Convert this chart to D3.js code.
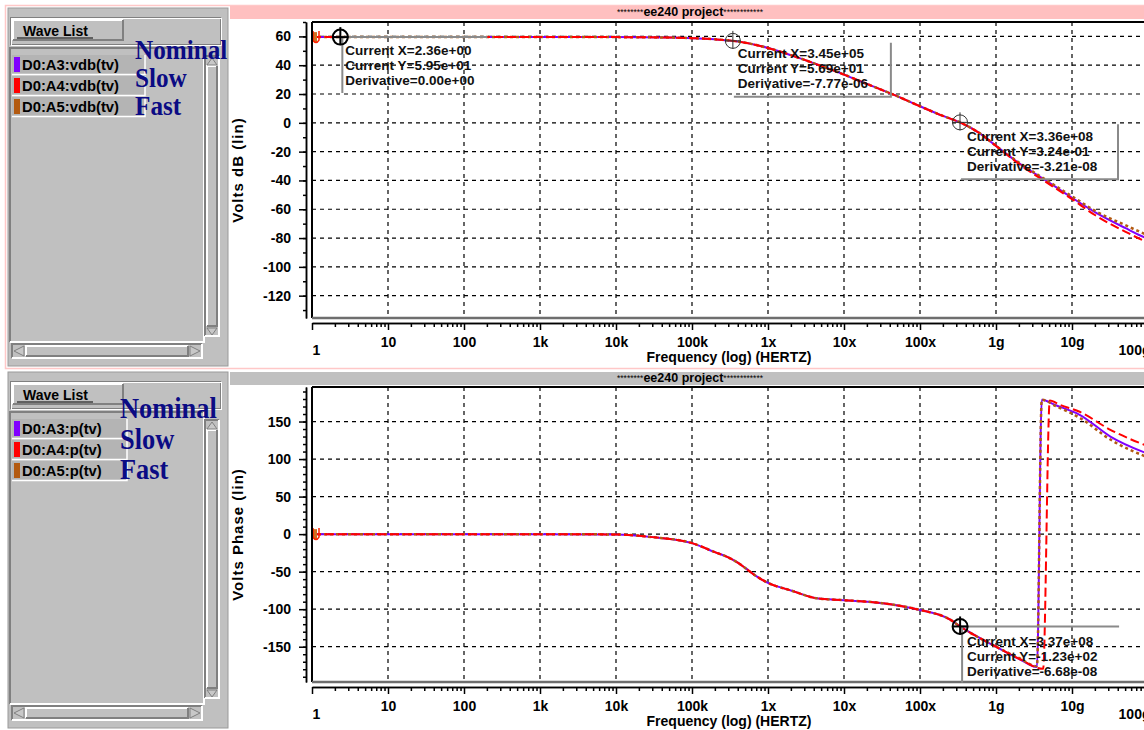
<!DOCTYPE html>
<html>
<head>
<meta charset="utf-8">
<script src="https://cdn.jsdelivr.net/npm/d3@7"></script>
<style>
  body { margin: 0; background: #fff; }
  svg text { font-family: "Liberation Sans", Arial, sans-serif; }
</style>
</head>
<body>
<svg id="chart" width="1144" height="730"></svg>
<script>
// ---- data ----
var decadeLabels = ["1", "10", "100", "1k", "10k", "100k", "1x", "10x", "100x", "1g", "10g", "100g"];
var magTicks = [60, 40, 20, 0, -20, -40, -60, -80, -100, -120];
var phaseTicks = [150, 100, 50, 0, -50, -100, -150];

var magFreq    = [1, 1e4, 5e4, 1e5, 2e5, 3.45e5, 6e5, 1e6, 2e6, 5e6, 1e7, 2e7, 5e7, 1e8, 2e8, 3.36e8, 6e8, 1e9, 2e9, 5e9, 1e10, 2e10, 5e10, 1e11, 1.2e11];
var magNominal = [59.5, 59.5, 59.2, 58.8, 58.0, 56.9, 54.8, 52.0, 47.0, 39.5, 33.5, 27.0, 18.5, 11.5, 4.8, 0.3, -7.0, -16, -28, -41.5, -52, -62, -73, -80.5, -82];
var magSlow    = [59.5, 59.5, 59.2, 58.8, 58.0, 56.9, 54.8, 52.0, 47.0, 39.5, 33.5, 27.0, 18.5, 11.5, 4.8, 0.3, -7.0, -16, -28.5, -42.5, -53, -64, -75.5, -83, -84.5];
var magFast    = [59.5, 59.5, 59.2, 58.8, 58.0, 56.9, 54.8, 52.0, 47.0, 39.5, 33.5, 27.0, 18.5, 11.5, 4.8, 0.3, -7.0, -16, -27.5, -41, -51, -61, -71, -78, -79.5];

var phFreqNominal = [1, 1e3, 1e4, 3e4, 1e5, 2e5, 3e5, 4e5, 5e5, 7e5, 1e6, 2e6, 4.4e6, 1e7, 3.2e7, 1e8, 2.5e8, 3.37e8, 1e9, 2e9, 3.46e9, 4.0e9, 6e9, 1.26e10, 3.2e10, 1.2e11];
var phNominal     = [0, 0, -0.5, -4, -12, -24, -31, -38, -45, -56, -65, -75, -85.5, -88, -92, -101, -114, -123, -150, -166, -177, 179, 172, 159, 130, 104];
var phFreqSlow    = [1, 1e3, 1e4, 3e4, 1e5, 2e5, 3e5, 4e5, 5e5, 7e5, 1e6, 2e6, 4.4e6, 1e7, 3.2e7, 1e8, 2.5e8, 3.37e8, 1e9, 2e9, 4.17e9, 5.1e9, 7e9, 1.26e10, 3.2e10, 1.2e11];
var phSlow        = [0, 0, -0.5, -4, -12, -24, -31, -38, -45, -56, -65, -75, -85.5, -88, -92, -101, -114, -123, -150, -166, -179.5, 178, 172, 163, 139, 114];
var phFreqFast    = [1, 1e3, 1e4, 3e4, 1e5, 2e5, 3e5, 4e5, 5e5, 7e5, 1e6, 2e6, 4.4e6, 1e7, 3.2e7, 1e8, 2.5e8, 3.37e8, 1e9, 2e9, 3.46e9, 4.0e9, 6e9, 1.26e10, 3.2e10, 1.2e11];
var phFast        = [0, 0, -0.5, -4, -12, -24, -31, -38, -45, -56, -65, -75, -85.5, -88, -92, -101, -114, -123, -150, -165, -176, 179, 171, 155, 126, 99];

var magWaves = ["D0:A3:vdb(tv)", "D0:A4:vdb(tv)", "D0:A5:vdb(tv)"];
var phaseWaves = ["D0:A3:p(tv)", "D0:A4:p(tv)", "D0:A5:p(tv)"];
var cornerNames = ["Nominal", "Slow", "Fast"];
var waveColors = ["#8000ff", "#ff0000", "#b35a10"];

var magCursorX = [2.36, 3.45e5, 3.36e8];
var magCursorY = [59.5, 56.9, 0.324];
var magCursorText = [
  ["Current X=2.36e+00", "Current Y=5.95e+01", "Derivative=0.00e+00"],
  ["Current X=3.45e+05", "Current Y=5.69e+01", "Derivative=-7.77e-06"],
  ["Current X=3.36e+08", "Current Y=3.24e-01", "Derivative=-3.21e-08"]
];
var phCursorX = [3.37e8];
var phCursorY = [-123];
var phCursorText = [["Current X=3.37e+08", "Current Y=-1.23e+02", "Derivative=-6.68e-08"]];

var svg = d3.select("#chart");
svg.append("rect").attr("width", 1144).attr("height", 730).attr("fill", "#fff");

// ---- helpers ----
function bevel(g, x, y, w, h, up, fill) {
  g.append("rect").attr("x", x).attr("y", y).attr("width", w).attr("height", h)
    .attr("fill", fill || "#c0c0c0");
  var lt = up ? "#ffffff" : "#808080", rb = up ? "#808080" : "#ffffff";
  g.append("path").attr("d", "M" + x + "," + (y + h) + "V" + y + "H" + (x + w))
    .attr("fill", "none").attr("stroke", lt).attr("stroke-width", 2);
  g.append("path").attr("d", "M" + x + "," + (y + h) + "H" + (x + w) + "V" + y)
    .attr("fill", "none").attr("stroke", rb).attr("stroke-width", 2);
}

function arrow(g, pts) {
  g.append("path").attr("d", "M" + pts.join("L") + "Z")
    .attr("fill", "#c8c8c8").attr("stroke", "#808080").attr("stroke-width", 1);
}

function waveList(top, bottom, names, itemW, lab) {
  var g = svg.append("g");
  g.append("rect").attr("x", 8).attr("y", top).attr("width", 220).attr("height", bottom - top)
    .attr("fill", "#c0c0c0").attr("stroke", "#9a9a9a");
  // button frame
  g.append("rect").attr("x", 10.5).attr("y", top + 9.5).attr("width", 210).attr("height", 27)
    .attr("fill", "none").attr("stroke", "#808080");
  g.append("rect").attr("x", 11.5).attr("y", top + 10.5).attr("width", 210).attr("height", 27)
    .attr("fill", "none").attr("stroke", "#fff");
  bevel(g, 13, top + 12, 110, 20, true);
  g.append("text").attr("x", 23).attr("y", top + 28).attr("font-size", 14).attr("font-weight", "bold")
    .text("Wave List");
  g.append("line").attr("x1", 17).attr("x2", 93).attr("y1", top + 30).attr("y2", top + 30)
    .attr("stroke", "#000").attr("stroke-width", 1.2);
  // list box
  bevel(g, 10, top + 40, 194, bottom - top - 64, false);
  names.forEach(function(n, i) {
    var yy = top + 47 + i * 21;
    g.append("rect").attr("x", 12).attr("y", yy).attr("width", itemW).attr("height", 19).attr("fill", "#b4b4b4");
    g.append("path").attr("d", "M12," + (yy + 19.5) + "H" + (12 + itemW) + "V" + yy)
      .attr("fill", "none").attr("stroke", "#fff").attr("stroke-width", 1.5);
    g.append("rect").attr("x", 14).attr("y", yy + 2).attr("width", 6).attr("height", 15).attr("fill", waveColors[i]);
    g.append("text").attr("x", 22).attr("y", yy + 15).attr("font-size", 14.8).attr("font-weight", "bold")
      .text(n);
  });
  // vertical scrollbar
  bevel(g, 205, top + 48, 14, bottom - top - 78, false, "#c0c0c0");
  bevel(g, 207, top + 58, 10, bottom - top - 98, true, "#c0c0c0");
  arrow(g, [[212, top + 50], [217, top + 57], [207, top + 57]]);
  arrow(g, [[212, bottom - 31], [217, bottom - 38], [207, bottom - 38]]);
  // horizontal scrollbar
  bevel(g, 12, bottom - 22, 190, 14, false, "#c0c0c0");
  bevel(g, 26, bottom - 20, 162, 10, true, "#c0c0c0");
  arrow(g, [[14, bottom - 15], [24, bottom - 20], [24, bottom - 10]]);
  arrow(g, [[200, bottom - 15], [190, bottom - 20], [190, bottom - 10]]);
  // corner names
  cornerNames.forEach(function(n, i) {
    g.append("text")
      .attr("transform", "translate(" + lab.x + "," + (lab.y + i * lab.step) + ") scale(" + lab.sx + ",1)")
      .attr("font-weight", "bold").attr("font-size", lab.size).attr("fill", "#0b0b84")
      .style("font-family", "'Liberation Serif', 'Times New Roman', serif")
      .text(n);
  });
}

function titleBar(y, color) {
  svg.append("rect").attr("x", 230).attr("y", y).attr("width", 914).attr("height", 13).attr("fill", color);
  var t = svg.append("text").attr("x", 690).attr("y", y + 10).attr("text-anchor", "middle");
  t.append("tspan").attr("font-size", 8.5).attr("dy", -1).text("********");
  t.append("tspan").attr("font-size", 12.5).attr("font-weight", "bold").attr("dy", 1).text("ee240 project");
  t.append("tspan").attr("font-size", 8.5).attr("dy", -1).text("************");
}

var x = d3.scaleLog().domain([1, 1e11]).range([312, 1148]);
var decades = decadeLabels.map(function(d, i) { return Math.pow(10, i); });
var minors = [];
decades.slice(0, 11).forEach(function(d) { for (var k = 2; k < 10; k++) minors.push(d * k); });

var lineStyles = [
  { dash: null, w: 2 },
  { dash: "9,4", w: 2 },
  { dash: "3,3", w: 2.5 }
];

function plot(cfg) {
  var g = svg.append("g");
  var y = d3.scaleLinear().domain(cfg.domain).range([cfg.bottom, cfg.top]);
  var id = "clip" + cfg.top;
  svg.append("clipPath").attr("id", id).append("rect")
    .attr("x", 313).attr("y", cfg.top).attr("width", 1144 - 313).attr("height", cfg.bottom - cfg.top);

  // grid
  g.append("g").selectAll("line").data(decades.slice(1)).join("line")
    .attr("x1", function(d) { return x(d); }).attr("x2", function(d) { return x(d); })
    .attr("y1", cfg.top).attr("y2", cfg.bottom)
    .attr("stroke", "#000").attr("stroke-width", 1.2).attr("stroke-dasharray", "4,4");
  g.append("g").selectAll("line").data(cfg.ticks).join("line")
    .attr("x1", 312).attr("x2", 1144)
    .attr("y1", function(d) { return y(d); }).attr("y2", function(d) { return y(d); })
    .attr("stroke", "#000").attr("stroke-width", 1.2).attr("stroke-dasharray", "4,4");

  // curves
  var line = d3.line()
    .x(function(d) { return x(d[0]); })
    .y(function(d) { return y(d[1]); })
    .curve(d3.curveMonotoneX);
  var order = [0, 2, 1];
  order.forEach(function(i) {
    var pts = cfg.freqs[i].map(function(f, j) { return [f, cfg.series[i][j]]; });
    g.append("path").attr("d", line(pts)).attr("clip-path", "url(#" + id + ")")
      .attr("fill", "none").attr("stroke", waveColors[i])
      .attr("stroke-width", lineStyles[i].w)
      .attr("stroke-dasharray", lineStyles[i].dash);
  });
  // start markers
  var y0 = y(cfg.series[0][0]);
  g.append("rect").attr("x", 313).attr("y", y0 - 5).attr("width", 4).attr("height", 10).attr("fill", "#d07020");
  g.append("path").attr("d", "M313," + (y0 - 6) + "V" + (y0 + 3) + "Q316," + (y0 + 8) + " 319," + (y0 + 3) + "V" + (y0 - 6))
    .attr("fill", "none").attr("stroke", "#ff2000").attr("stroke-width", 1.5);

  // frame
  g.append("line").attr("x1", 312).attr("x2", 1144).attr("y1", cfg.top).attr("y2", cfg.top)
    .attr("stroke", "#000").attr("stroke-width", 2);
  g.append("line").attr("x1", 312).attr("x2", 312).attr("y1", cfg.top).attr("y2", cfg.bottom)
    .attr("stroke", "#000").attr("stroke-width", 2);
  g.append("line").attr("x1", 312).attr("x2", 1144).attr("y1", cfg.bottom).attr("y2", cfg.bottom)
    .attr("stroke", "#6e6e6e").attr("stroke-width", 2.5);

  // y axis
  var minorY = d3.range(Math.ceil(cfg.domain[0] / 10) * 10, cfg.domain[1] + 0.1, 10);
  var ya = g.append("g").attr("transform", "translate(306,0)")
    .call(d3.axisLeft(y).tickValues(minorY).tickSize(3).tickSizeOuter(0).tickFormat(""));
  var yb = g.append("g").attr("transform", "translate(306,0)")
    .call(d3.axisLeft(y).tickValues(cfg.ticks).tickSize(7).tickSizeOuter(0).tickPadding(8)
      .tickFormat(function(d) { return String(d); }));
  [ya, yb].forEach(function(a) {
    a.selectAll("line,path").attr("stroke", "#000").attr("stroke-width", 1.5);
    a.selectAll("text").attr("font-size", 14).attr("font-weight", "bold")
      .attr("font-family", "'Liberation Sans', Arial, sans-serif").attr("fill", "#000");
  });
  g.append("text")
    .attr("transform", "translate(243," + ((cfg.top + cfg.bottom) / 2) + ") rotate(-90)")
    .attr("text-anchor", "middle").attr("font-size", 15).attr("font-weight", "bold")
    .attr("letter-spacing", 1).text(cfg.yTitle);

  // x axis
  var axY = cfg.bottom + 5;
  var xa = g.append("g").attr("transform", "translate(0," + axY + ")")
    .call(d3.axisBottom(x).tickValues(minors).tickSize(4).tickSizeOuter(0).tickFormat(""));
  var xb = g.append("g").attr("transform", "translate(0," + axY + ")")
    .call(d3.axisBottom(x).tickValues(decades).tickSize(7).tickSizeOuter(0).tickPadding(7)
      .tickFormat(function(d, i) { return decadeLabels[i]; }));
  [xa, xb].forEach(function(a) {
    a.selectAll("line,path").attr("stroke", "#000").attr("stroke-width", 1.5);
    a.selectAll("text").attr("font-size", 14).attr("font-weight", "bold")
      .attr("font-family", "'Liberation Sans', Arial, sans-serif").attr("fill", "#000");
  });
  xb.selectAll("text").filter(function(d, i) { return i === 0; })
    .attr("text-anchor", "start").attr("dx", 0).attr("y", 22);
  xb.selectAll("text").filter(function(d, i) { return i === decades.length - 1; })
    .attr("text-anchor", "end").attr("dx", 2).attr("y", 22);
  g.append("text").attr("x", 729).attr("y", axY + 39).attr("text-anchor", "middle")
    .attr("font-size", 14).attr("font-weight", "bold").text("Frequency (log) (HERTZ)");

  // cursors
  cfg.curX.forEach(function(f, i) {
    var cx = x(f), cy = y(cfg.curY[i]);
    var c = cfg.curStyle[i];
    var box = g.append("g");
    if (c.side === "topleft") {
      box.append("path").attr("d", "M" + (cx + 2) + "," + (cy + c.h) + "V" + cy + "H" + (cx + c.w))
        .attr("fill", "none").attr("stroke", "#8a8a8a").attr("stroke-width", 2);
    } else {
      box.append("path").attr("d", "M" + (cx + 1) + "," + (cy + c.h) + "H" + (cx + c.w) + "V" + (cy + 2))
        .attr("fill", "none").attr("stroke", "#8a8a8a").attr("stroke-width", 2);
    }
    cfg.curText[i].forEach(function(t, k) {
      box.append("text").attr("x", cx + c.dx).attr("y", cy + c.dy + k * 15)
        .attr("font-size", 13.5).attr("font-weight", "bold").attr("fill", "#111").text(t);
    });
    var cg = g.append("g").attr("transform", "translate(" + cx + "," + cy + ")")
      .attr("stroke", c.heavy ? "#000" : "#333").attr("stroke-width", c.heavy ? 2 : 1).attr("fill", "none");
    cg.append("circle").attr("r", 7.5);
    cg.append("line").attr("x1", 0).attr("x2", 0).attr("y1", -10).attr("y2", 8);
    cg.append("line").attr("x1", -8).attr("x2", 8).attr("y1", 0).attr("y2", 0);
  });
}

// ---- panes ----
svg.append("rect").attr("x", 5.5).attr("y", 5.5).attr("width", 1140).attr("height", 363)
  .attr("fill", "none").attr("stroke", "#ffc8c8").attr("stroke-width", 1.5);
titleBar(6, "#ffc0c0");
titleBar(372, "#c0c0c0");

waveList(8, 366, magWaves, 133, { x: 135, y: 59, step: 28, size: 28, sx: 0.9 });
waveList(372, 728, phaseWaves, 115, { x: 120, y: 418, step: 30.5, size: 29, sx: 0.91 });

plot({
  top: 22, bottom: 318, domain: [-135.5, 70], ticks: magTicks, yTitle: "Volts dB (lin)",
  freqs: [magFreq, magFreq, magFreq], series: [magNominal, magSlow, magFast],
  curX: magCursorX, curY: magCursorY, curText: magCursorText,
  curStyle: [
    { side: "topleft", w: 147, h: 56, dx: 5, dy: 18, heavy: true },
    { side: "botright", w: 158, h: 56, dx: 5, dy: 17, heavy: false },
    { side: "botright", w: 158, h: 57, dx: 7, dy: 19, heavy: false }
  ]
});

plot({
  top: 387, bottom: 682, domain: [-197, 196], ticks: phaseTicks, yTitle: "Volts Phase (lin)",
  freqs: [phFreqNominal, phFreqSlow, phFreqFast], series: [phNominal, phSlow, phFast],
  curX: phCursorX, curY: phCursorY, curText: phCursorText,
  curStyle: [
    { side: "topleft", w: 159, h: 56, dx: 7, dy: 20, heavy: true }
  ]
});
</script>
</body>
</html>
